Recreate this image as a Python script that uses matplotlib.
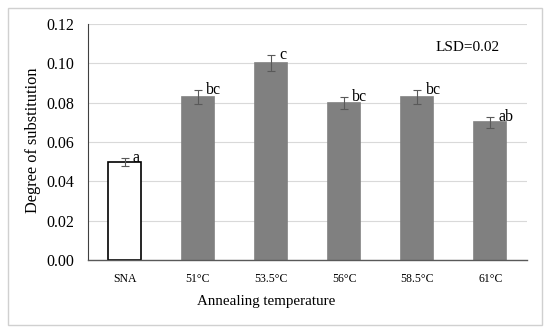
import numpy as np
import matplotlib.pyplot as plt
from matplotlib.patches import Rectangle

plt.rcParams['font.family'] = ['Liberation Serif', 'DejaVu Serif']

# data
temps = ['SNA', '51°C', '53.5°C', '56°C', '58.5°C', '61°C']
ds = [0.050, 0.083, 0.100, 0.080, 0.083, 0.070]
err = [0.002, 0.0035, 0.004, 0.003, 0.0035, 0.0028]
letters = ['a', 'bc', 'c', 'bc', 'bc', 'ab']

fig = plt.figure(figsize=(5.5, 3.33), dpi=100)
ax = fig.add_axes([0.16, 0.219, 0.798, 0.709])

x = np.arange(len(temps))
cols = ['white'] + ['#808080'] * (len(temps) - 1)
edges = ['black'] + ['#808080'] * (len(temps) - 1)
ax.bar(x, ds, width=0.44, color=cols, edgecolor=edges, linewidth=1.2, zorder=2)
ax.errorbar(x, ds, yerr=err, fmt='none', ecolor='#595959', elinewidth=0.8,
            capsize=3, capthick=0.8, zorder=3)

for xi, yi, e, lab in zip(x, ds, err, letters):
    ax.annotate(lab, (xi, yi + e), xytext=(6, 0), textcoords='offset points',
                fontsize=11.5, ha='left', va='center')

ax.text(0.866, 0.90, 'LSD=0.02', transform=ax.transAxes, fontsize=11,
        ha='center', va='center')

ax.set_xlim(-0.5, len(temps) - 0.5)
ax.set_ylim(0, 0.12)
ax.set_yticks(np.arange(0, 0.121, 0.02))
ax.set_yticklabels(['%.2f' % v for v in np.arange(0, 0.121, 0.02)], fontsize=11.5)
ax.set_xticks(x)
ax.set_xticklabels(temps, fontsize=8.5)
ax.tick_params(length=0, pad=9)
ax.tick_params(axis='y', pad=10)
ax.yaxis.grid(True, color='#d9d9d9', linewidth=0.8, zorder=0)
ax.set_axisbelow(True)
for s in ['top', 'right']:
    ax.spines[s].set_visible(False)
ax.spines['left'].set_color('#404040')
ax.spines['bottom'].set_color('#595959')
ax.spines['bottom'].set_linewidth(1.0)

fig.text(33 / 550, 1 - 140 / 333, 'Degree of substitution', rotation=90,
         fontsize=11.8, ha='center', va='center')
fig.text(266 / 550, 1 - 301 / 333, 'Annealing temperature', fontsize=10.8,
         ha='center', va='center')

# outer frame
fig.patches.append(Rectangle((8 / 550, 8 / 333), 534 / 550, 317 / 333,
                             transform=fig.transFigure, fill=False,
                             edgecolor='#d0d0d0', linewidth=1))

fig.savefig('out.png', dpi=100)
